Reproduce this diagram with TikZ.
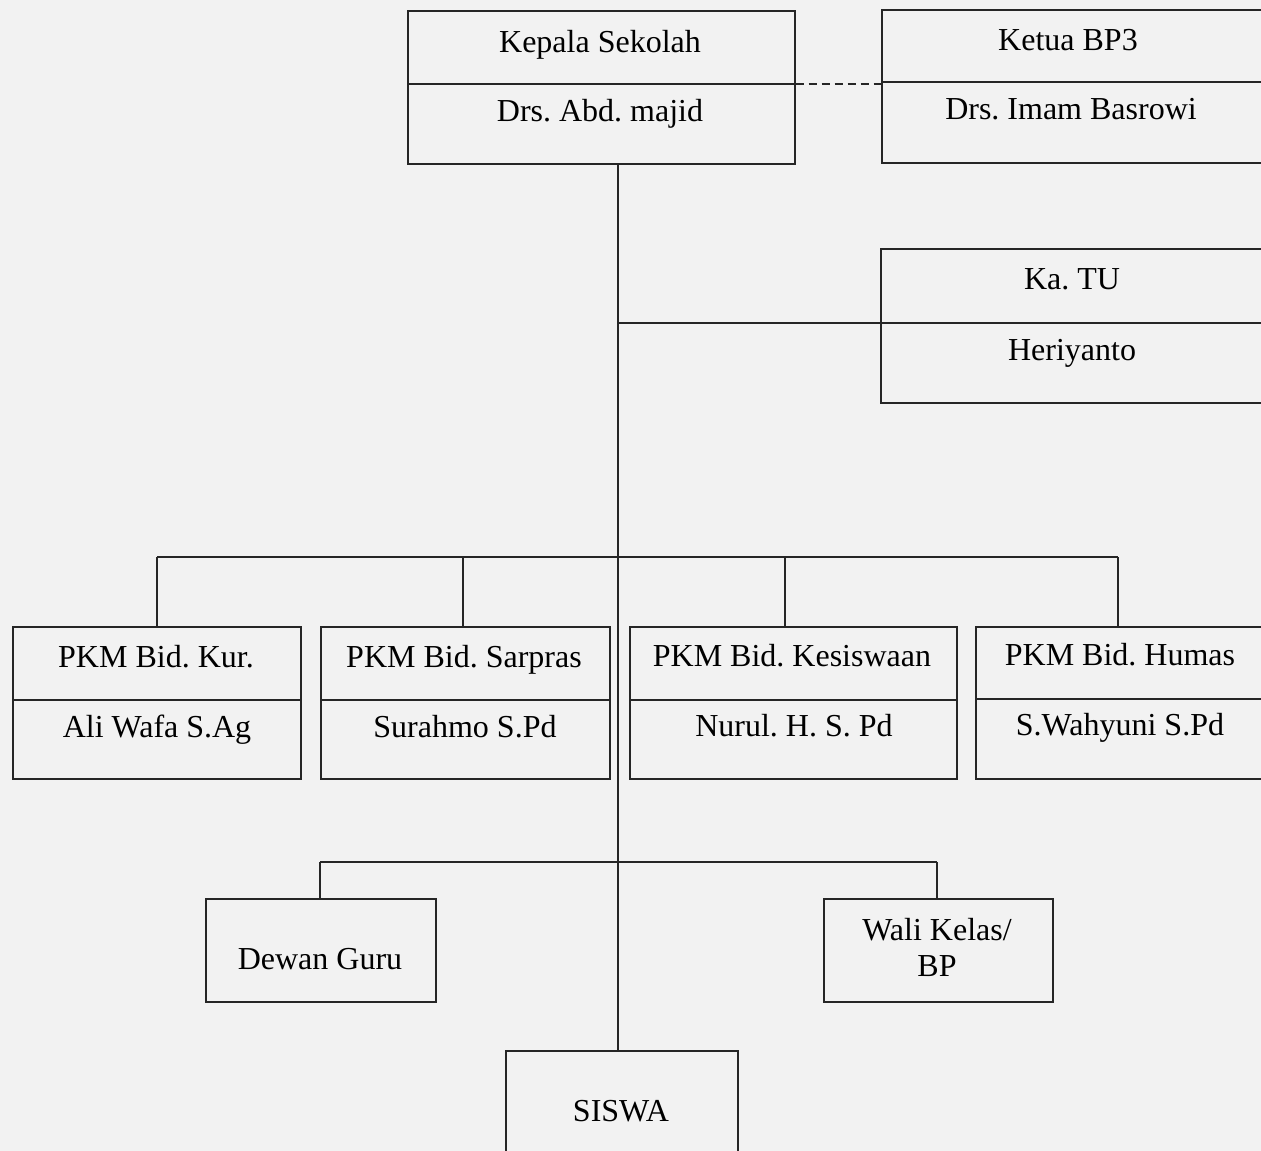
\documentclass[tikz,border=0pt]{standalone}
\usepackage{fontspec}
\setmainfont{Liberation Serif}
\frenchspacing
\begin{document}
\begin{tikzpicture}[x=1pt,y=-1pt,
  box/.style={draw=black!85, line width=1.7pt, inner sep=0pt},
  txt/.style={anchor=base, inner sep=0pt, font=\fontsize{32}{36}\selectfont, text=black},
  conn/.style={draw=black!85, line width=1.7pt},
  dashconn/.style={draw=black!85, line width=1.4pt, dash pattern=on 8pt off 5pt}]
\useasboundingbox (0,0) rectangle (1261,1151);
\fill[black!5] (0,0) rectangle (1261,1151);
\clip (0,0) rectangle (1261,1151);
% boxes
\node[box, minimum width=387pt, minimum height=153pt, anchor=north west] (kepala) at (407,10) {};
\node[box, minimum width=394pt, minimum height=153pt, anchor=north west] (ketua) at (881,9) {};
\node[box, minimum width=394pt, minimum height=154pt, anchor=north west] (katu) at (880,248) {};
\node[box, minimum width=288pt, minimum height=152pt, anchor=north west] (kur) at (12,626) {};
\node[box, minimum width=289pt, minimum height=152pt, anchor=north west] (sarpras) at (320,626) {};
\node[box, minimum width=327pt, minimum height=152pt, anchor=north west] (kesis) at (629,626) {};
\node[box, minimum width=300pt, minimum height=152pt, anchor=north west] (humas) at (975,626) {};
\node[box, minimum width=230pt, minimum height=103pt, anchor=north west] (dewan) at (205,898) {};
\node[box, minimum width=229pt, minimum height=103pt, anchor=north west] (wali) at (823,898) {};
\node[box, minimum width=232pt, minimum height=120pt, anchor=north west] (siswa) at (505,1050) {};
% dividers
\draw[conn] (kepala.west |- 0,84) -- (kepala.east |- 0,84);
\draw[conn] (ketua.west |- 0,82) -- (ketua.east |- 0,82);
\draw[conn] (katu.west |- 0,323) -- (katu.east |- 0,323);
\draw[conn] (kur.west |- 0,700) -- (kur.east |- 0,700);
\draw[conn] (sarpras.west |- 0,700) -- (sarpras.east |- 0,700);
\draw[conn] (kesis.west |- 0,700) -- (kesis.east |- 0,700);
\draw[conn] (humas.west |- 0,699) -- (humas.east |- 0,699);
% texts
\node[txt] (t1) at (600,52) {Kepala Sekolah};
\node[txt] (n1) at (600,121) {Drs. Abd. majid};
\node[txt] (t2) at (1068,50) {Ketua BP3};
\node[txt] (n2) at (1071,119) {Drs. Imam Basrowi};
\node[txt] (t3) at (1072,289) {Ka. TU};
\node[txt] (n3) at (1072,360) {Heriyanto};
\node[txt] (t4) at (156,667) {PKM Bid. Kur.};
\node[txt] (n4) at (157,737) {Ali Wafa S.Ag};
\node[txt] (t5) at (464,667) {PKM Bid. Sarpras};
\node[txt] (n5) at (465,737) {Surahmo S.Pd};
\node[txt] (t6) at (792,666) {PKM Bid. Kesiswaan};
\node[txt] (n6) at (794,736) {Nurul. H. S. Pd};
\node[txt] (t7) at (1120,665) {PKM Bid. Humas};
\node[txt] (n7) at (1120,735) {S.Wahyuni S.Pd};
\node[txt] (t8) at (320,969) {Dewan Guru};
\node[txt] (t9) at (937,940) {Wali Kelas/};
\node[txt] (t10) at (937,976) {BP};
\node[txt] (t11) at (621,1121) {SISWA};
% connectors
\coordinate (spine) at (618,0);
\draw[conn] (kepala.south -| spine) -- (siswa.north -| spine);
\draw[dashconn] (kepala.east |- 0,84) -- (ketua.west |- 0,84);
\draw[conn] (spine |- 0,323) -- (katu.west |- 0,323);
\draw[conn] (157,557) -- (1118,557);
\draw[conn] (157,557) -- (kur.north -| 157,0);
\draw[conn] (463,557) -- (sarpras.north -| 463,0);
\draw[conn] (785,557) -- (kesis.north -| 785,0);
\draw[conn] (1118,557) -- (humas.north -| 1118,0);
\draw[conn] (320,862) -- (937,862);
\draw[conn] (320,862) -- (dewan.north -| 320,0);
\draw[conn] (937,862) -- (wali.north -| 937,0);
\end{tikzpicture}
\end{document}
